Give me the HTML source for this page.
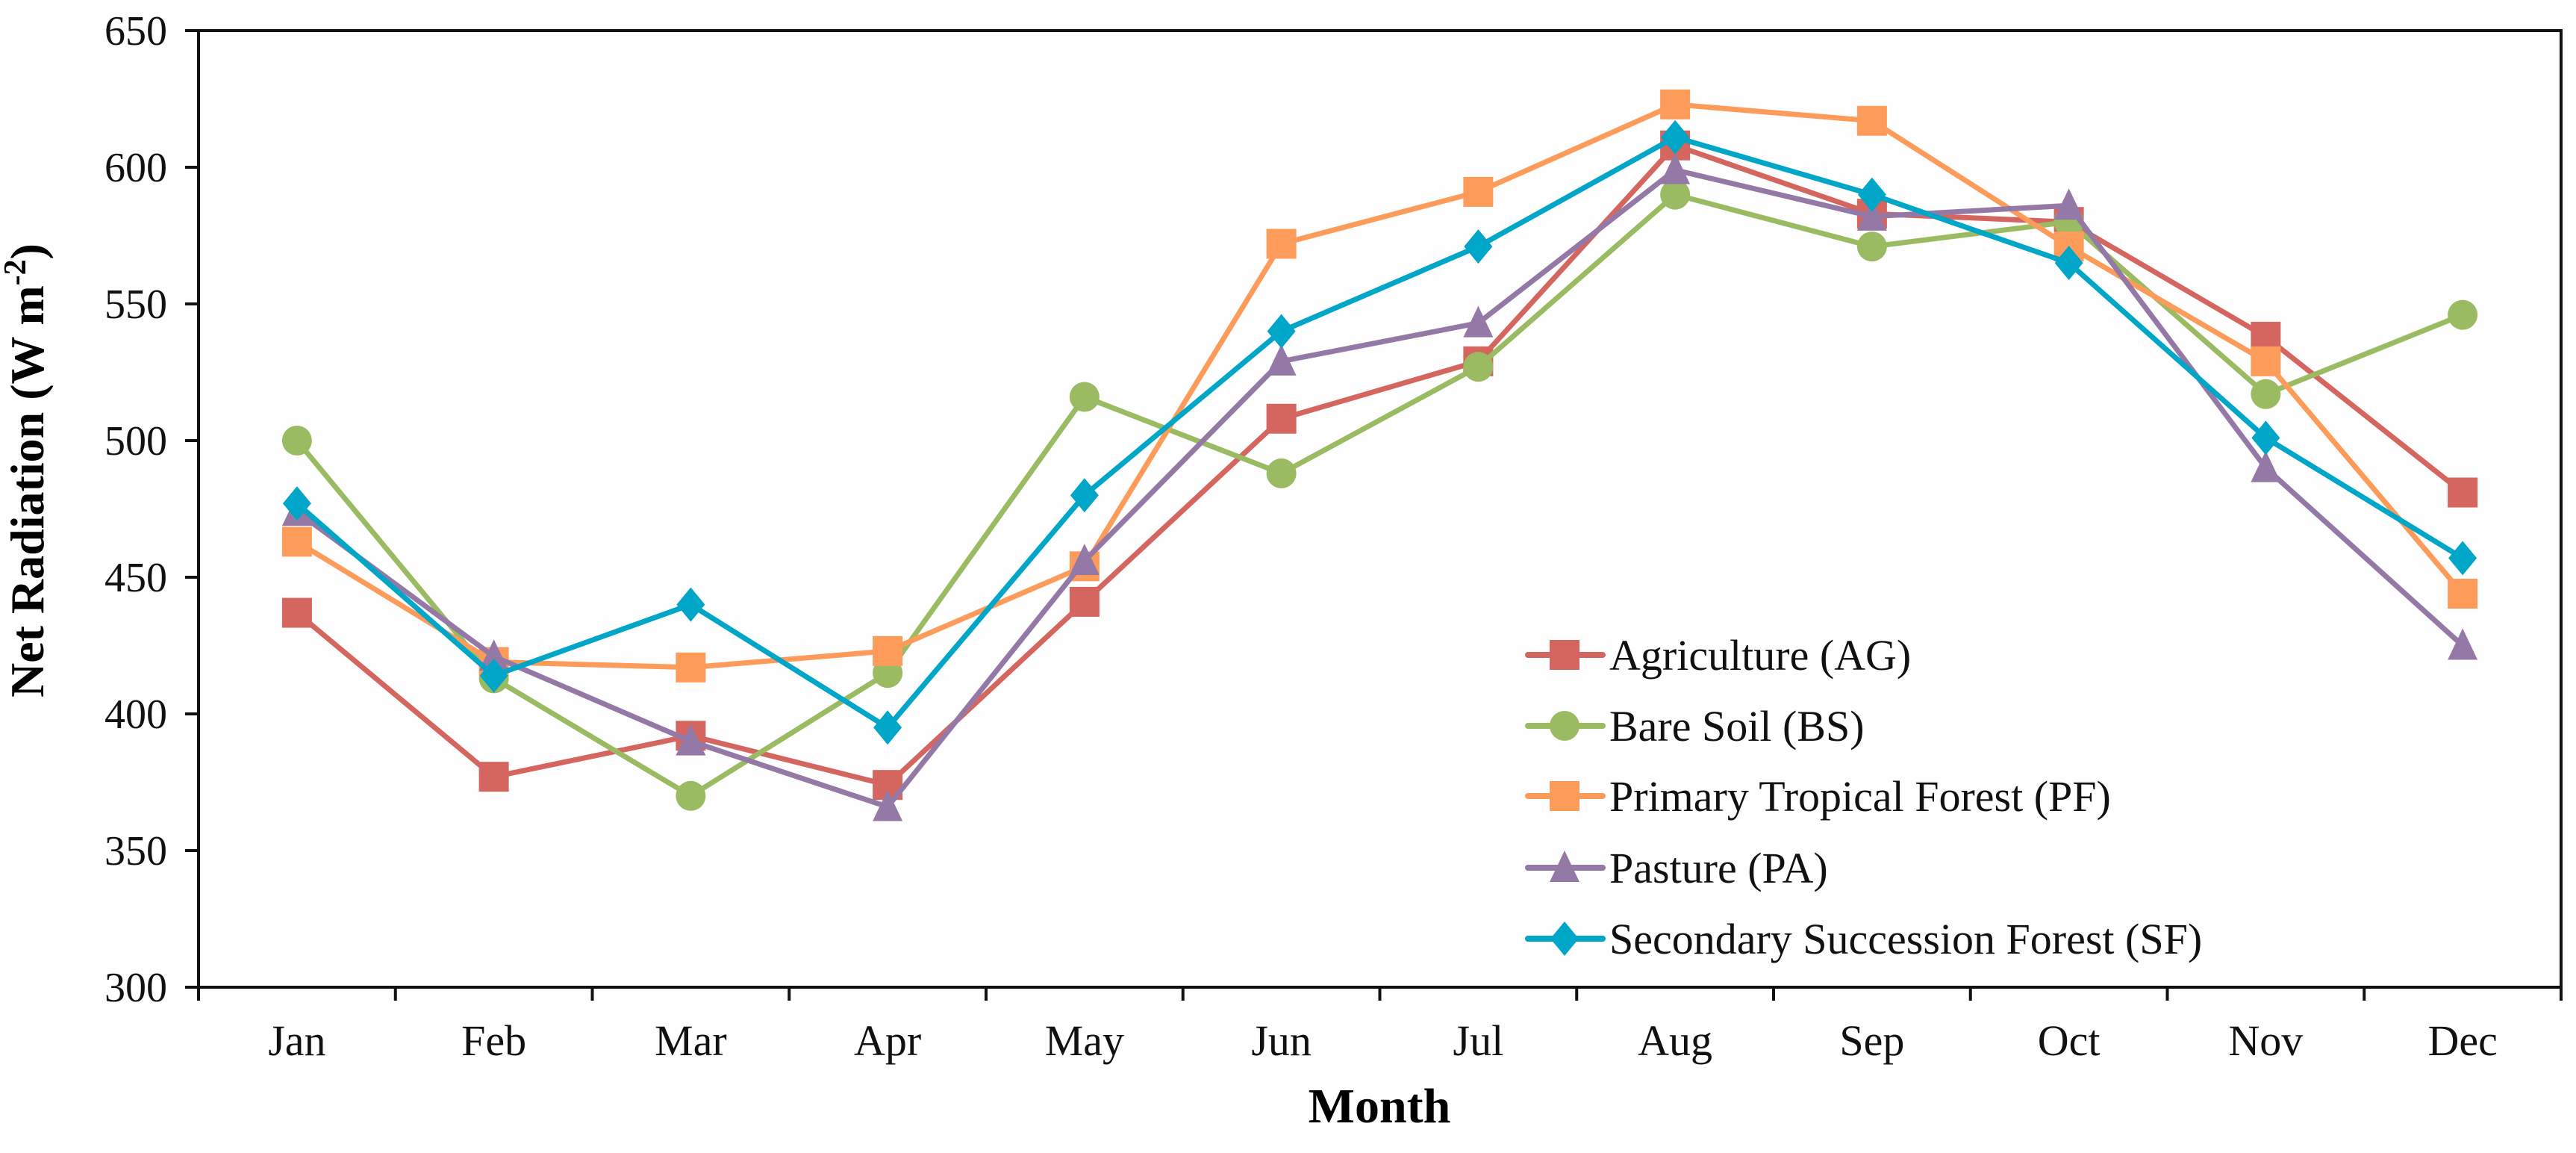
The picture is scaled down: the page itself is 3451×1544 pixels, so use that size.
<!DOCTYPE html>
<html><head><meta charset="utf-8"><style>
html,body{margin:0;padding:0;background:#fff;}
svg, svg text{font-family:"Liberation Serif","Times New Roman",serif;}
</style></head><body>
<svg id="chart" width="3451" height="1539" viewBox="0 0 3451 1539" xmlns="http://www.w3.org/2000/svg" font-family="Liberation Serif, serif">
<rect width="3451" height="1539" fill="#fefefe"/>
<g id="grid"></g>
<text x="58" y="630" transform="rotate(-90 58 630)" text-anchor="middle" font-size="64" font-weight="bold" font-family="Liberation Serif, serif">Net Radiation (W m<tspan dy="-24" font-size="42">-2</tspan><tspan dy="24">)</tspan></text>
<text x="1848" y="1503" text-anchor="middle" font-size="66" font-weight="bold" font-family="Liberation Serif, serif">Month</text>
<g id="series"></g>
<g id="legend"></g>
</svg>
<script>
const months = ["Jan","Feb","Mar","Apr","May","Jun","Jul","Aug","Sep","Oct","Nov","Dec"];
const yTicks = [300,350,400,450,500,550,600,650];
const seriesNames = ["Agriculture (AG)","Bare Soil (BS)","Primary Tropical Forest (PF)","Pasture (PA)","Secondary Succession Forest (SF)"];
const agValues = [437,377,392,374,441,508,529,608,583,580,538,481];
const bsValues = [500,413,370,415,516,488,527,590,571,580,517,546];
const pfValues = [463,419,417,423,454,572,591,623,617,571,529,444];
const paValues = [474,421,390,366,456,529,543,599,582,586,490,425];
const sfValues = [477,414,440,395,480,540,571,611,590,565,501,457];

const NS="http://www.w3.org/2000/svg";
const FONT="Liberation Serif, serif";
const L=266,R=3431,T=41,B=1322,yMin=300,yMax=650;
const bw=(R-L)/months.length;
const xPos=i=>L+bw*(i+0.5);
const yPos=v=>B-(v-yMin)/(yMax-yMin)*(B-T);
function mk(tag,attrs,parent){const e=document.createElementNS(NS,tag);for(const k in attrs)e.setAttribute(k,attrs[k]);parent.appendChild(e);return e;}
const grid=document.getElementById('grid');
let fr=mk('rect',{x:L,y:T,width:R-L,height:B-T,fill:'none',stroke:'#111','stroke-width':4},grid);


yTicks.forEach(v=>{
  const y=yPos(v);
  let t=mk('line',{x1:L-18,x2:L,y1:y,y2:y,stroke:'#111','stroke-width':4},grid);
  
  
  let tx=mk('text',{x:L-42,y:y+19,'text-anchor':'end','font-size':56,fill:'#111','font-family':FONT},grid);
  tx.textContent=v;
  
  
});
for(let i=0;i<=months.length;i++){
  const x=L+bw*i;
  let t=mk('line',{x1:x,x2:x,y1:B,y2:B+18,stroke:'#111','stroke-width':4},grid);
  
  
}
months.forEach((m,i)=>{
  let tx=mk('text',{x:xPos(i),y:1413,'text-anchor':'middle','font-size':58,fill:'#111','font-family':FONT},grid);
  tx.textContent=m;
  
  
});
const colors=["#d4665f","#9bbb63","#fd9c5a","#9479a6","#00a6c8"];
const shapes=["square","circle","square","triangle","diamond"];
const allValues=[agValues,bsValues,pfValues,paValues,sfValues];
function marker(shape,x,y,c,p){
  let e;
  if(shape==='square') e=mk('rect',{x:x-20,y:y-20,width:40,height:40,fill:c},p);
  else if(shape==='circle') e=mk('circle',{cx:x,cy:y,r:20,fill:c},p);
  else if(shape==='triangle') e=mk('polygon',{points:`${x},${y-23} ${x+20},${y+19} ${x-20},${y+19}`,fill:c},p);
  else e=mk('polygon',{points:`${x},${y-23} ${x+19},${y} ${x},${y+23} ${x-19},${y}`,fill:c},p);
  return e;
}
const sg=document.getElementById('series');
allValues.forEach((vals,s)=>{
  const g=mk('g',{},sg);
  
  
  const pl=mk('polyline',{points:vals.map((v,i)=>xPos(i)+','+yPos(v)).join(' '),fill:'none',stroke:colors[s],'stroke-width':7,'stroke-linejoin':'round'},g);
  
  
  vals.forEach((v,i)=>{
    const m=marker(shapes[s],xPos(i),yPos(v),colors[s],g);
    
    
  });
});
const lg=document.getElementById('legend');


const legY=[877,972,1066,1162,1257];
seriesNames.forEach((n,s)=>{
  const g=mk('g',{},lg);
  
  
  mk('line',{x1:2047,x2:2147,y1:legY[s],y2:legY[s],stroke:colors[s],'stroke-width':8,'stroke-linecap':'round'},g);
  marker(shapes[s],2096,legY[s],colors[s],g);
  const t=mk('text',{x:2156,y:legY[s]+20,'font-size':58,fill:'#111','font-family':FONT},g);
  t.textContent=n;
});
</script>
</body></html>
